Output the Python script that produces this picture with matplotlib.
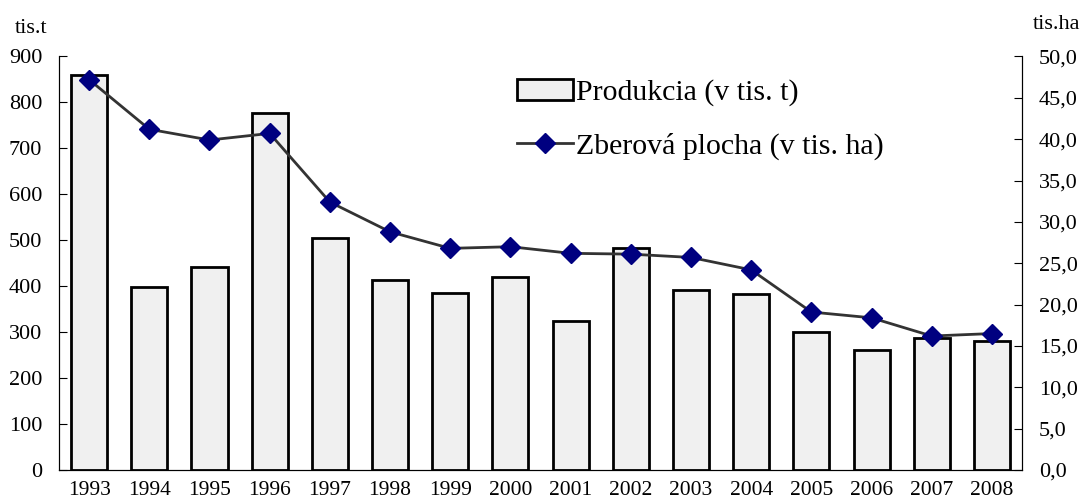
import numpy as np
import matplotlib
matplotlib.use('Agg')
import matplotlib.pyplot as plt
from matplotlib.ticker import FuncFormatter

plt.rcParams['font.family'] = ['Liberation Serif', 'DejaVu Serif']

# data
years = ['1993', '1994', '1995', '1996', '1997', '1998', '1999', '2000',
         '2001', '2002', '2003', '2004', '2005', '2006', '2007', '2008']
produkcia = [859, 399, 442, 778, 504, 413, 385, 419,
             324, 484, 392, 382, 301, 262, 287, 281]
plocha = [47.2, 41.2, 39.9, 40.7, 32.4, 28.8, 26.8, 27.0,
          26.2, 26.1, 25.7, 24.2, 19.1, 18.4, 16.2, 16.5]

fig = plt.figure(figsize=(10.89, 5.03), dpi=100)
ax = fig.add_axes([0.0542, 0.0656, 0.8843, 0.8221])
x = np.arange(len(years))

bars = ax.bar(x, produkcia, width=0.6, color='#f0f0f0', edgecolor='black',
              linewidth=2.0, label='Produkcia (v tis. t)')
ax.set_xlim(-0.5, len(years) - 0.5)
ax.set_ylim(0, 900)
ax.set_yticks(range(0, 901, 100))
ax.set_xticks(x)
ax.set_xticklabels(years)
ax.tick_params(axis='x', length=0, labelsize=15.5, pad=8)
ax.tick_params(axis='y', direction='in', length=6, labelsize=16, pad=12)
ax.spines['top'].set_visible(False)

ax2 = ax.twinx()
line, = ax2.plot(x, plocha, color='#333333', linewidth=2.0, marker='D',
                 markersize=10, markerfacecolor='#000080',
                 markeredgecolor='#000080', label='Zberová plocha (v tis. ha)')
ax2.set_ylim(0, 50)
ax2.set_yticks(np.arange(0, 50.1, 5))
ax2.yaxis.set_major_formatter(FuncFormatter(lambda v, p: f'{v:.1f}'.replace('.', ',')))
ax2.tick_params(axis='y', direction='in', length=6, labelsize=16, pad=12)
ax2.spines['top'].set_visible(False)

fig.text(0.014, 0.935, 'tis.t', fontsize=16)
fig.text(0.948, 0.943, 'tis.ha', fontsize=16)

ax2.legend([bars, line], ['Produkcia (v tis. t)', 'Zberová plocha (v tis. ha)'],
           loc='upper left', bbox_to_anchor=(0.475, 0.843), bbox_transform=fig.transFigure,
           frameon=False, fontsize=21.5, handlelength=1.85, handleheight=0.7,
           handletextpad=0.1, labelspacing=0.88, borderaxespad=0, borderpad=0)

plt.savefig('out.png', dpi=100)
